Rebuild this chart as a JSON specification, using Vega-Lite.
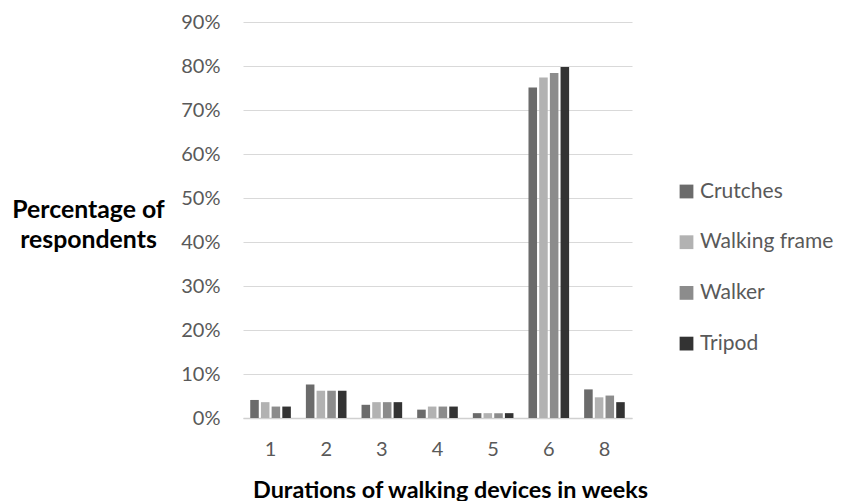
{
  "$schema": "https://vega.github.io/schema/vega-lite/v6.json",
  "autosize": "none",
  "width": 389,
  "height": 396,
  "padding": {"left": 243, "top": 22, "right": 212, "bottom": 83},
  "background": "white",
  "config": {
    "view": {"stroke": null},
    "font": "Lato"
  },
  "data": {
    "values": [
      {"week": "1", "device": "Crutches", "pct": 0.041},
      {"week": "1", "device": "Walking frame", "pct": 0.036},
      {"week": "1", "device": "Walker", "pct": 0.026},
      {"week": "1", "device": "Tripod", "pct": 0.026},
      {"week": "2", "device": "Crutches", "pct": 0.076},
      {"week": "2", "device": "Walking frame", "pct": 0.062},
      {"week": "2", "device": "Walker", "pct": 0.062},
      {"week": "2", "device": "Tripod", "pct": 0.062},
      {"week": "3", "device": "Crutches", "pct": 0.030},
      {"week": "3", "device": "Walking frame", "pct": 0.036},
      {"week": "3", "device": "Walker", "pct": 0.036},
      {"week": "3", "device": "Tripod", "pct": 0.036},
      {"week": "4", "device": "Crutches", "pct": 0.019},
      {"week": "4", "device": "Walking frame", "pct": 0.026},
      {"week": "4", "device": "Walker", "pct": 0.026},
      {"week": "4", "device": "Tripod", "pct": 0.026},
      {"week": "5", "device": "Crutches", "pct": 0.011},
      {"week": "5", "device": "Walking frame", "pct": 0.011},
      {"week": "5", "device": "Walker", "pct": 0.011},
      {"week": "5", "device": "Tripod", "pct": 0.011},
      {"week": "6", "device": "Crutches", "pct": 0.751},
      {"week": "6", "device": "Walking frame", "pct": 0.774},
      {"week": "6", "device": "Walker", "pct": 0.784},
      {"week": "6", "device": "Tripod", "pct": 0.798},
      {"week": "8", "device": "Crutches", "pct": 0.065},
      {"week": "8", "device": "Walking frame", "pct": 0.047},
      {"week": "8", "device": "Walker", "pct": 0.051},
      {"week": "8", "device": "Tripod", "pct": 0.036}
    ]
  },
  "mark": {"type": "bar"},
  "encoding": {
    "x": {
      "field": "week",
      "type": "ordinal",
      "sort": ["1", "2", "3", "4", "5", "6", "8"],
      "scale": {"paddingInner": 0.27, "paddingOuter": 0.13},
      "axis": {
        "title": "Durations of walking devices in weeks",
        "titleFontSize": 23.4,
        "titleFontWeight": "bold",
        "titleColor": "#000000",
        "titleX": 207,
        "titleY": 72,
        "titleAlign": "center",
        "titleBaseline": "middle",
        "labelAngle": 0,
        "labelFontSize": 20,
        "labelColor": "#595959",
        "labelPadding": 21,
        "ticks": false,
        "domainColor": "#d0d0d0",
        "domainWidth": 1.5,
        "grid": false
      }
    },
    "xOffset": {
      "field": "device",
      "type": "nominal",
      "sort": ["Crutches", "Walking frame", "Walker", "Tripod"],
      "scale": {"paddingInner": 0.2}
    },
    "y": {
      "field": "pct",
      "type": "quantitative",
      "scale": {"domain": [0, 0.9]},
      "axis": {
        "format": ".0%",
        "values": [0, 0.1, 0.2, 0.3, 0.4, 0.5, 0.6, 0.7, 0.8, 0.9],
        "title": ["Percentage of", "respondents"],
        "titleAngle": 0,
        "titleX": -155,
        "titleY": 188,
        "titleAlign": "center",
        "titleBaseline": "middle",
        "titleLineHeight": 30,
        "titleFontSize": 24.8,
        "titleFontWeight": "bold",
        "titleColor": "#000000",
        "labelFontSize": 20,
        "labelColor": "#595959",
        "labelPadding": 23,
        "ticks": false,
        "domain": false,
        "gridColor": "#d9d9d9",
        "gridWidth": 1.2
      }
    },
    "color": {
      "field": "device",
      "type": "nominal",
      "sort": ["Crutches", "Walking frame", "Walker", "Tripod"],
      "scale": {
        "domain": ["Crutches", "Walking frame", "Walker", "Tripod"],
        "range": ["#6b6b6b", "#b2b2b2", "#8c8c8c", "#333333"]
      },
      "legend": {
        "title": null,
        "orient": "none",
        "legendX": 433,
        "legendY": 159,
        "symbolType": "square",
        "symbolSize": 190,
        "symbolStrokeWidth": 0,
        "labelFontSize": 21,
        "labelColor": "#595959",
        "labelOffset": 3,
        "rowPadding": 28.7,
        "labelLimit": 300
      }
    }
  }
}
